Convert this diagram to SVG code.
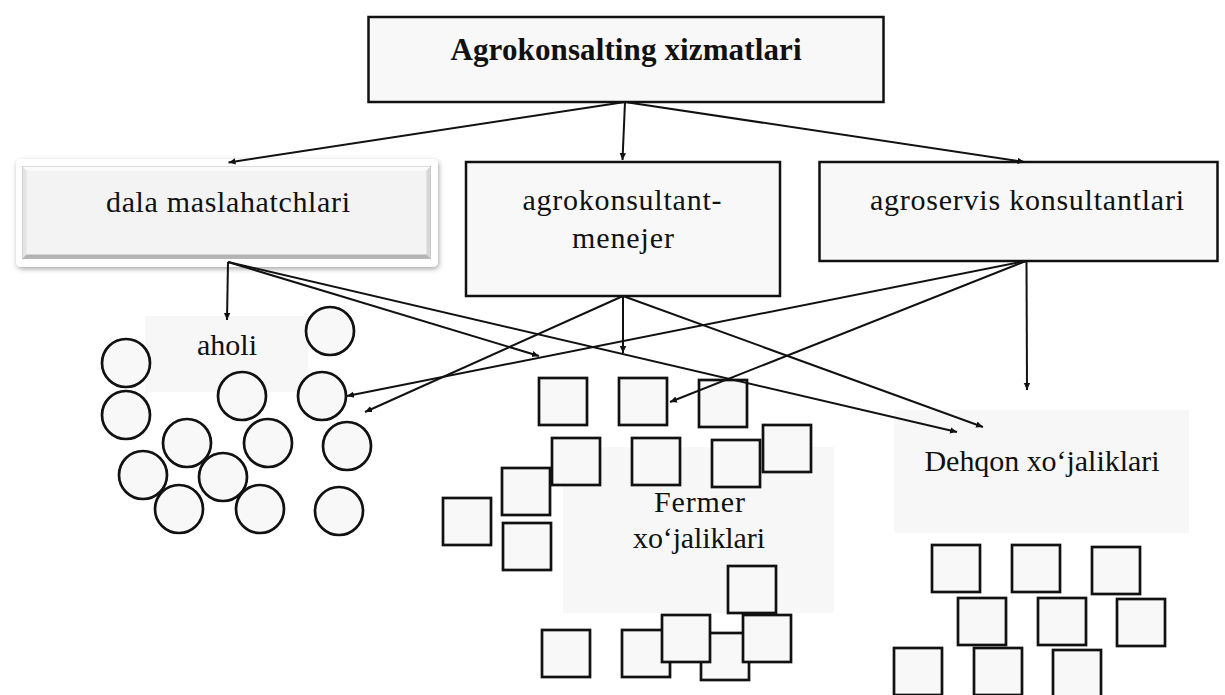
<svg xmlns="http://www.w3.org/2000/svg" width="1225" height="695" viewBox="0 0 1225 695">
<defs>
<style>
.box{fill:#f8f8f8;stroke:#111;stroke-width:2.5}
.lbl{fill:#f7f7f7;stroke:none}
.c{fill:#f8f8f8;stroke:#111;stroke-width:2.7}
.s{fill:#f8f8f8;stroke:#111;stroke-width:2.7}
.t{font-family:"Liberation Serif","DejaVu Serif",serif;font-size:30px;fill:#111;text-anchor:middle}
.tb{font-family:"Liberation Serif","DejaVu Serif",serif;font-size:31px;font-weight:bold;fill:#111;text-anchor:middle}
.ln{stroke:#111;stroke-width:2;fill:none;marker-end:url(#ah)}
</style>
<marker id="ah" markerWidth="8" markerHeight="8" refX="7" refY="4" orient="auto" markerUnits="userSpaceOnUse">
<path d="M0,0.8 L7,4 L0,7.2 Z" fill="#111"/>
</marker>
<filter id="sh" x="-10%" y="-20%" width="120%" height="150%">
<feDropShadow dx="1" dy="2" stdDeviation="2.5" flood-color="#000" flood-opacity="0.35"/>
</filter>
</defs>
<rect width="1225" height="695" fill="#fff"/>

<g id="label-aholi"><rect class="lbl" x="145" y="316" width="163" height="76"/><text class="t" x="227" y="355" textLength="60" lengthAdjust="spacing">aholi</text></g>
<g id="label-fermer"><rect class="lbl" x="563" y="447" width="271" height="166"/><text class="t" x="699.5" y="512" textLength="91" lengthAdjust="spacing">Fermer</text><text class="t" x="699" y="548" textLength="132" lengthAdjust="spacing">xo‘jaliklari</text></g>
<g id="label-dehqon"><rect class="lbl" x="894" y="410" width="295" height="123"/><text class="t" x="1042" y="471" textLength="235" lengthAdjust="spacing">Dehqon xo‘jaliklari</text></g>

<g id="circles">
<circle class="c" cx="126" cy="363" r="24"/>
<circle class="c" cx="126" cy="415" r="24"/>
<circle class="c" cx="330" cy="331" r="24"/>
<circle class="c" cx="242" cy="396" r="24"/>
<circle class="c" cx="322" cy="396" r="24"/>
<circle class="c" cx="187" cy="443" r="24"/>
<circle class="c" cx="268" cy="443" r="24"/>
<circle class="c" cx="347" cy="446" r="24"/>
<circle class="c" cx="143" cy="475" r="24"/>
<circle class="c" cx="223" cy="477" r="24"/>
<circle class="c" cx="179" cy="509" r="24"/>
<circle class="c" cx="260" cy="509" r="24"/>
<circle class="c" cx="339" cy="511" r="24"/>
</g>

<g id="squares-fermer">
<rect class="s" x="539" y="378" width="48" height="47"/>
<rect class="s" x="619" y="378" width="48" height="47"/>
<rect class="s" x="699" y="380" width="48" height="47"/>
<rect class="s" x="552" y="438" width="48" height="47"/>
<rect class="s" x="632" y="438" width="48" height="47"/>
<rect class="s" x="712" y="440" width="48" height="47"/>
<rect class="s" x="763" y="425" width="48" height="47"/>
<rect class="s" x="502" y="468" width="48" height="47"/>
<rect class="s" x="443" y="498" width="48" height="47"/>
<rect class="s" x="503" y="523" width="48" height="47"/>
<rect class="s" x="728" y="566" width="48" height="47"/>
<rect class="s" x="542" y="630" width="48" height="47"/>
<rect class="s" x="622" y="630" width="48" height="47"/>
<rect class="s" x="701" y="633" width="48" height="47"/>
<rect class="s" x="662" y="615" width="48" height="47"/>
<rect class="s" x="743" y="615" width="48" height="47"/>
</g>

<g id="squares-dehqon">
<rect class="s" x="932" y="545" width="48" height="47"/>
<rect class="s" x="1012" y="545" width="48" height="47"/>
<rect class="s" x="1092" y="547" width="48" height="47"/>
<rect class="s" x="958" y="598" width="48" height="47"/>
<rect class="s" x="1038" y="598" width="48" height="47"/>
<rect class="s" x="1117" y="599" width="48" height="47"/>
<rect class="s" x="894" y="648" width="48" height="47"/>
<rect class="s" x="974" y="648" width="48" height="47"/>
<rect class="s" x="1053" y="650" width="48" height="47"/>
</g>

<g id="node-top"><rect class="box" x="368.5" y="17" width="515" height="85"/><text class="tb" x="626" y="60" textLength="351" lengthAdjust="spacing">Agrokonsalting xizmatlari</text></g>

<g id="node-dala">
<rect x="16" y="159" width="422" height="108" rx="5" fill="#fff" filter="url(#sh)"/>
<rect x="22.5" y="166.5" width="408" height="92" fill="#f3f3f3" stroke="#bcbcbc" stroke-width="1"/>
<polygon points="22.5,166.5 430.5,166.5 426.5,170.5 26.5,170.5" fill="#fbfbfb"/>
<polygon points="22.5,166.5 26.5,170.5 26.5,254.5 22.5,258.5" fill="#e4e4e4"/>
<polygon points="430.5,166.5 426.5,170.5 426.5,254.5 430.5,258.5" fill="#d6d6d6"/>
<polygon points="22.5,258.5 430.5,258.5 426.5,254.5 26.5,254.5" fill="#b4b4b4"/>
<text class="t" x="228" y="212" textLength="244" lengthAdjust="spacing">dala maslahatchlari</text>
</g>

<g id="node-menejer"><rect class="box" x="466" y="162" width="314" height="134"/><text class="t" x="622" y="210" textLength="199" lengthAdjust="spacing">agrokonsultant-</text><text class="t" x="623" y="248" textLength="102" lengthAdjust="spacing">menejer</text></g>

<g id="node-agroservis"><rect class="box" x="819.5" y="162" width="398" height="99"/><text class="t" x="1027" y="210" textLength="314" lengthAdjust="spacing">agroservis konsultantlari</text></g>

<g id="connectors">
<line class="ln" x1="625" y1="102" x2="228.5" y2="162.5"/>
<line class="ln" x1="625" y1="102" x2="622.5" y2="160"/>
<line class="ln" x1="625" y1="102" x2="1024.5" y2="162"/>
<line class="ln" x1="228" y1="262" x2="227" y2="320"/>
<line class="ln" x1="228" y1="262" x2="539" y2="356"/>
<line class="ln" x1="228" y1="262" x2="957" y2="432"/>
<line class="ln" x1="623" y1="296" x2="623" y2="353"/>
<line class="ln" x1="623" y1="296" x2="365" y2="412"/>
<line class="ln" x1="623" y1="296" x2="983" y2="427"/>
<line class="ln" x1="1026" y1="261" x2="347" y2="396"/>
<line class="ln" x1="1026" y1="261" x2="670" y2="402"/>
<line class="ln" x1="1026.5" y1="261" x2="1027" y2="390"/>
</g>
</svg>
